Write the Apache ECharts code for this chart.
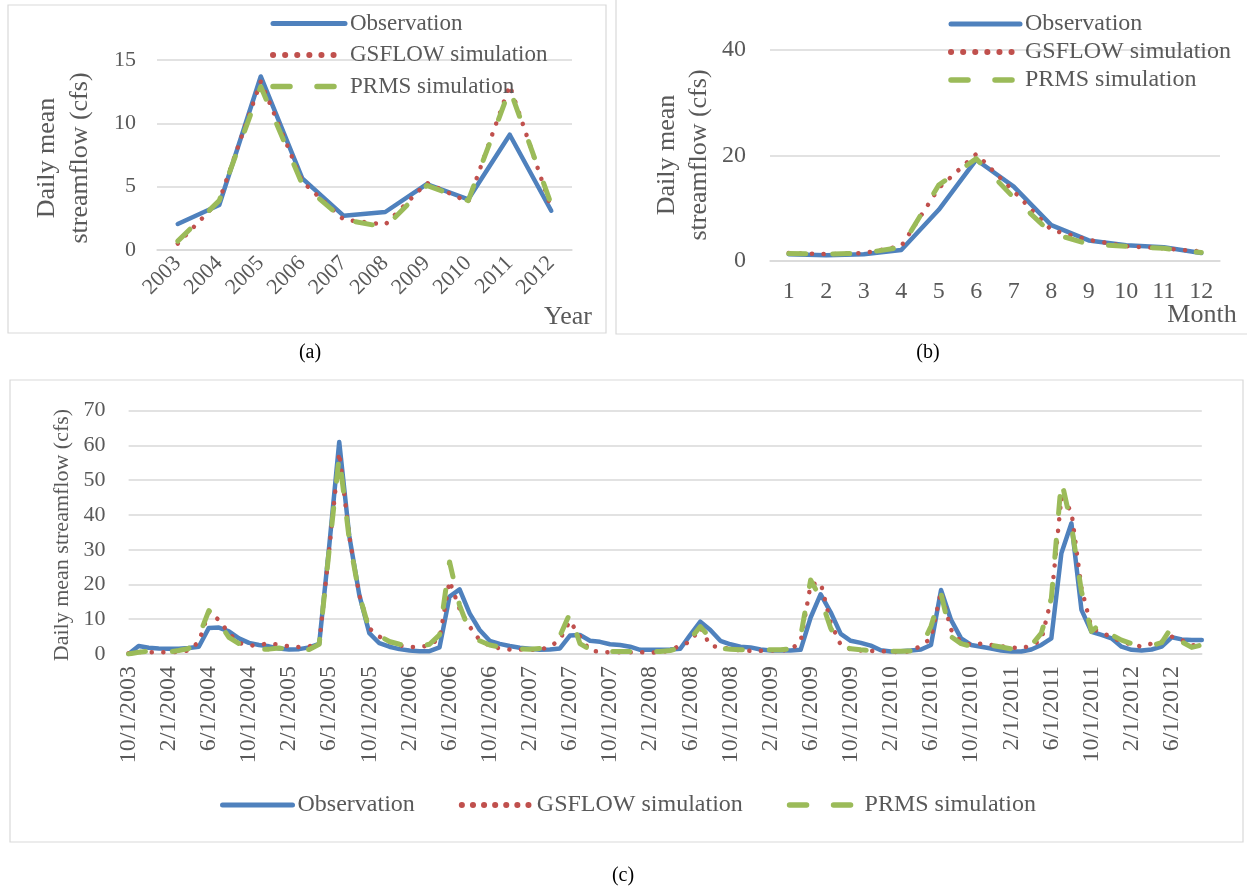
<!DOCTYPE html>
<html><head><meta charset="utf-8">
<script src="https://cdn.jsdelivr.net/npm/echarts@6/dist/echarts.min.js"></script>
<style>html,body{margin:0;padding:0;background:#fff}#c{width:1247px;height:890px}</style>
</head><body><div id="c"></div>
<script>
// ---------- Panel (a): annual ----------
const yearCats = ['2003','2004','2005','2006','2007','2008','2009','2010','2011','2012'];
const obsYear  = [2.05, 3.55, 13.7, 5.65, 2.7, 3.0, 5.2, 4.0, 9.1, 3.1];
const gsYear   = [0.5, 3.9, 13.3, 5.4, 2.4, 2.0, 5.3, 3.8, 13.0, 3.3];
const prmsYear = [0.7, 3.9, 12.9, 5.2, 2.4, 1.8, 5.1, 3.9, 12.7, 3.6];

// ---------- Panel (b): monthly mean ----------
const monthCats = ['1','2','3','4','5','6','7','8','9','10','11','12'];
const obsMonth  = [1.3, 1.1, 1.3, 2.1, 9.7, 19.2, 14.1, 6.8, 3.9, 3.0, 2.6, 1.5];
const gsMonth   = [1.5, 1.3, 1.5, 2.8, 13.8, 20.3, 13.2, 5.9, 4.0, 2.8, 2.4, 1.8];
const prmsMonth = [1.4, 1.3, 1.5, 2.6, 14.4, 19.4, 12.0, 5.3, 3.2, 2.8, 2.4, 1.6];

// ---------- Panel (c): monthly series ----------
const dateCats = [
 '10/1/2003','11/1/2003','12/1/2003',
 '1/1/2004','2/1/2004','3/1/2004','4/1/2004','5/1/2004','6/1/2004','7/1/2004','8/1/2004','9/1/2004','10/1/2004','11/1/2004','12/1/2004',
 '1/1/2005','2/1/2005','3/1/2005','4/1/2005','5/1/2005','6/1/2005','7/1/2005','8/1/2005','9/1/2005','10/1/2005','11/1/2005','12/1/2005',
 '1/1/2006','2/1/2006','3/1/2006','4/1/2006','5/1/2006','6/1/2006','7/1/2006','8/1/2006','9/1/2006','10/1/2006','11/1/2006','12/1/2006',
 '1/1/2007','2/1/2007','3/1/2007','4/1/2007','5/1/2007','6/1/2007','7/1/2007','8/1/2007','9/1/2007','10/1/2007','11/1/2007','12/1/2007',
 '1/1/2008','2/1/2008','3/1/2008','4/1/2008','5/1/2008','6/1/2008','7/1/2008','8/1/2008','9/1/2008','10/1/2008','11/1/2008','12/1/2008',
 '1/1/2009','2/1/2009','3/1/2009','4/1/2009','5/1/2009','6/1/2009','7/1/2009','8/1/2009','9/1/2009','10/1/2009','11/1/2009','12/1/2009',
 '1/1/2010','2/1/2010','3/1/2010','4/1/2010','5/1/2010','6/1/2010','7/1/2010','8/1/2010','9/1/2010','10/1/2010','11/1/2010','12/1/2010',
 '1/1/2011','2/1/2011','3/1/2011','4/1/2011','5/1/2011','6/1/2011','7/1/2011','8/1/2011','9/1/2011','10/1/2011','11/1/2011','12/1/2011',
 '1/1/2012','2/1/2012','3/1/2012','4/1/2012','5/1/2012','6/1/2012','7/1/2012','8/1/2012','9/1/2012'
];
const obsDaily = [
 0, 2.3, 1.8,
 1.6, 1.5, 1.5, 1.7, 2.1, 7.5, 7.6, 6.5, 4.5, 3.2, 2.6, 2.2,
 1.6, 1.3, 1.4, 1.9, 2.9, 31, 61, 34, 17, 6.0, 3.1, 2.1,
 1.4, 1.0, 0.8, 0.8, 1.9, 16.5, 18.6, 11.7, 6.9, 3.8, 2.9, 2.3,
 1.8, 1.5, 1.2, 1.3, 1.6, 5.3, 5.5, 3.8, 3.5, 2.8, 2.6, 2.1,
 1.2, 1.2, 1.2, 1.3, 1.5, 5.5, 9.3, 6.9, 3.8, 2.8, 2.1, 1.9,
 1.3, 1.0, 1.0, 1.0, 1.2, 10.5, 17.2, 12.0, 5.8, 3.8, 3.2, 2.4,
 1.1, 0.7, 0.8, 1.0, 1.3, 2.6, 18.4, 9.8, 4.5, 2.6, 2.1, 1.6,
 1.0, 0.7, 0.7, 1.3, 2.6, 4.5, 29, 37.6, 12.7, 6.4, 5.5, 4.5,
 2.1, 1.2, 1.0, 1.3, 2.1, 4.8, 4.2, 4.0, 4.0
];
const gsDaily = [
 0.2, 0.6, 0.5,
 0.5, 0.5, 0.6, 1.0, 3.5, 12.1, 9.8, 6.0, 3.2, 2.4, 2.6, 3.1,
 2.6, 2.2, 2.0, 2.2, 3.0, 30, 58, 34, 17, 7.4, 5.0, 3.5,
 2.5, 2.0, 2.0, 2.5, 4.5, 21, 13, 7.9, 4.0, 2.4, 1.6, 1.3,
 1.3, 1.2, 1.3, 2.0, 4.2, 9.5, 5.0, 1.0, 0.6, 0.5, 0.5, 0.5,
 0.5, 0.4, 0.5, 1.0, 2.5, 3.5, 7.6, 2.4, 1.9, 1.5, 1.0, 0.9,
 0.9, 1.0, 1.0, 1.3, 3.5, 20, 20.5, 9.0, 2.6, 1.3, 1.0, 0.9,
 0.8, 0.7, 0.5, 0.8, 2.4, 4.5, 18, 7.0, 3.5, 2.6, 3.0, 2.6,
 2.2, 1.9, 1.6, 2.5, 4.0, 16, 45, 41, 19, 7.5, 6.0, 5.0,
 3.4, 2.8, 2.1, 3.0, 3.5, 5.0, 4.0, 2.5, 2.6
];
const prmsDaily = [
 0, 0.5, 0.8,
 0.8, 0.6, 1.0, 1.6, 5.0, 12.5, 9.0, 4.8, 3.0, 2.2, 1.4, 1.4,
 1.7, 1.4, 1.0, 1.3, 2.8, 30, 57, 33, 17, 7.0, 5.2, 3.6,
 2.8, 2.3, 2.2, 2.8, 5.5, 26.5, 14, 6.5, 3.8, 2.6, 2.0, 1.6,
 1.5, 1.4, 1.6, 3.5, 5.2, 11.7, 3.0, 1.3, 1.0, 0.7, 0.7, 0.7,
 0.7, 0.7, 0.7, 1.0, 1.8, 4.3, 7.9, 4.5, 1.6, 1.4, 1.2, 1.2,
 1.2, 1.2, 1.2, 1.5, 5.0, 21.3, 16, 7.4, 2.5, 1.5, 1.2, 1.0,
 1.0, 0.8, 0.8, 0.9, 1.8, 8.0, 17.4, 5.0, 3.0, 2.2, 2.7, 2.5,
 2.0, 1.5, 1.2, 2.5, 6.0, 16, 50, 37, 18, 6.5, 9.0, 5.5,
 4.0, 3.0, 2.3, 2.4, 3.3, 7.8, 3.5, 1.9, 2.6
];
const seriesNames = ['Observation', 'GSFLOW simulation', 'PRMS simulation'];

// ---------- styles ----------
const FONT = "'Liberation Serif','Times New Roman',serif";
const GREY = '#595959';
const GRID_C = '#d9d9d9';
const styles = [
  {color:'#4f81bd', width:4.5, type:'solid', cap:'round', join:'round'},
  {color:'#c0504d', width:4.5, type:[0.1, 11.5], cap:'round', join:'round'},
  {color:'#9bbb59', width:5, type:[17, 27], cap:'round', join:'round'}
];
const legendWidths = [5, 6, 5.5];

function xAxisCfg(gi, data, extra) {
  return Object.assign({
    type:'category', gridIndex:gi, data:data, boundaryGap:true,
    axisLine:{show:true, lineStyle:{color:GRID_C, width:1.5}},
    axisTick:{show:false}, splitLine:{show:false}
  }, extra);
}
function yAxisCfg(gi, max, interval, fs, margin) {
  return {
    type:'value', gridIndex:gi, min:0, max:max, interval:interval,
    axisLine:{show:false}, axisTick:{show:false},
    splitLine:{show:true, lineStyle:{color:GRID_C, width:1.5}},
    axisLabel:{color:GREY, fontFamily:FONT, fontSize:fs, margin:margin}
  };
}
function lineSeries(k, data, gi) {
  return {
    type:'line', name:seriesNames[k], data:data, xAxisIndex:gi, yAxisIndex:gi,
    symbol:'none', showSymbol:false, smooth:false, z:2+k,
    lineStyle:Object.assign({}, styles[k]), itemStyle:{color:styles[k].color},
    emphasis:{disabled:true}
  };
}
function legendCfg(fs, dotGap, extra) {
  return Object.assign({
    selectedMode:false, padding:0,
    itemStyle:{opacity:0, borderWidth:0},
    lineStyle:{width:4.5, cap:'round'},
    textStyle:{color:GREY, fontFamily:FONT, fontSize:fs, lineHeight:fs},
    data: seriesNames.map((n,k)=>({name:n,
      itemStyle:{opacity:0, borderWidth:0},
      lineStyle:{color:styles[k].color, width:legendWidths[k],
        type: k===1 ? [0.1, dotGap] : styles[k].type, cap:'round'}}))
  }, extra);
}
function txt(x, y, s, opts) {
  return {type:'text', x:x, y:y, rotation:(opts&&opts.rot)||0, silent:true,
    style:Object.assign({text:s, fill:GREY, fontFamily:FONT, fontSize:21, align:'center', verticalAlign:'middle'}, opts&&opts.style)};
}
function box(x, y, w, h) {
  return {type:'rect', silent:true, shape:{x:x, y:y, width:w, height:h},
    style:{fill:'none', stroke:GRID_C, lineWidth:1.2}};
}

const option = {
  animation:false,
  backgroundColor:'#ffffff',
  grid:[
    {left:157, top:60, width:415, height:190},
    {left:770, top:50, width:450, height:211},
    {left:128.6, top:410.7, width:1073.2, height:243.3}
  ],
  xAxis:[
    xAxisCfg(0, yearCats, {axisLabel:{color:GREY, fontFamily:FONT, fontSize:22, rotate:45, margin:10}}),
    xAxisCfg(1, monthCats, {axisLabel:{color:GREY, fontFamily:FONT, fontSize:24, margin:19}}),
    xAxisCfg(2, dateCats, {boundaryGap:false, axisLabel:{color:GREY, fontFamily:FONT, fontSize:24, rotate:90, margin:12, interval:3}})
  ],
  yAxis:[
    yAxisCfg(0, 15, 5, 22, 21),
    yAxisCfg(1, 40, 20, 24, 24),
    yAxisCfg(2, 70, 10, 22, 23)
  ],
  legend:[
    legendCfg(23, 12, {left:270, top:12, orient:'vertical', itemWidth:72, itemHeight:14, itemGap:8.5}),
    legendCfg(24, 12, {left:948, top:12, orient:'vertical', itemWidth:69, itemHeight:14, itemGap:4}),
    legendCfg(24, 11, {left:220, top:793, orient:'horizontal', itemWidth:70, itemHeight:14, itemGap:44})
  ],
  series:[
    lineSeries(0, obsYear, 0), lineSeries(1, gsYear, 0), lineSeries(2, prmsYear, 0),
    lineSeries(0, obsMonth, 1), lineSeries(1, gsMonth, 1), lineSeries(2, prmsMonth, 1),
    lineSeries(0, obsDaily, 2), lineSeries(1, gsDaily, 2), lineSeries(2, prmsDaily, 2)
  ],
  graphic:[
    box(8, 5, 598, 328),
    box(616, -5, 640, 339),
    box(10, 380, 1233, 462),
    txt(47, 158, 'Daily mean', {rot:Math.PI/2, style:{fontSize:26}}),
    txt(80, 158, 'streamflow (cfs)', {rot:Math.PI/2, style:{fontSize:26}}),
    txt(667, 155, 'Daily mean', {rot:Math.PI/2, style:{fontSize:26}}),
    txt(699, 155, 'streamflow (cfs)', {rot:Math.PI/2, style:{fontSize:26}}),
    txt(62, 535, 'Daily mean streamflow (cfs)', {rot:Math.PI/2, style:{fontSize:22}}),
    txt(568, 317, 'Year', {style:{fontSize:26}}),
    txt(1202, 315, 'Month', {style:{fontSize:26}}),
    txt(310, 353, '(a)', {style:{fill:'#000', fontSize:20}}),
    txt(928, 353, '(b)', {style:{fill:'#000', fontSize:20}}),
    txt(623, 876, '(c)', {style:{fill:'#000', fontSize:20}})
  ]
};
const chart = echarts.init(document.getElementById('c'), null, {renderer:'canvas'});
chart.setOption(option);
</script></body></html>
